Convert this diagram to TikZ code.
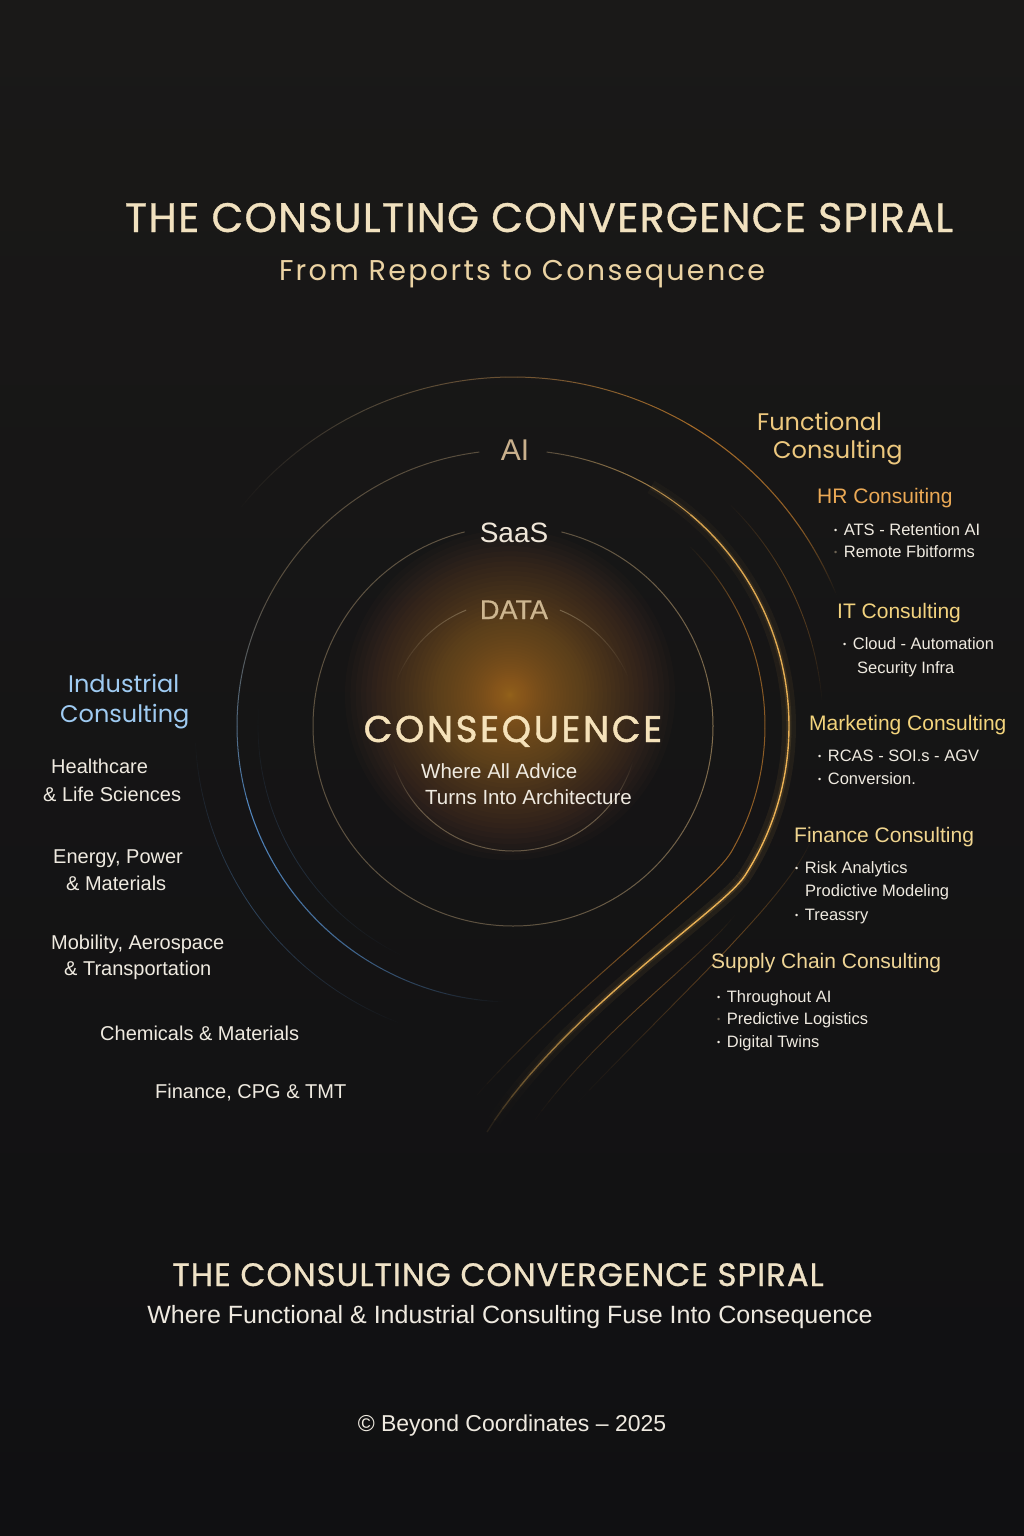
\documentclass[tikz,border=0pt]{standalone}
\usepackage{fontspec}
\setmainfont{Liberation Sans}
\newfontfamily\pop{Poppins}
\newfontfamily\popt[LetterSpace=3,FakeBold=0.8]{Poppins}
\newfontfamily\popw[LetterSpace=8]{Poppins}
\newfontfamily\popc[LetterSpace=7,FakeBold=1.2]{Poppins}
\newfontfamily\labf[FakeBold=0.5]{Liberation Sans}
\usetikzlibrary{calc}

\definecolor{bgtop}{HTML}{1A1918}
\definecolor{bgmid}{HTML}{141414}
\definecolor{bgbot}{HTML}{101012}
\definecolor{titlec}{HTML}{F1E1BF}
\definecolor{subc}{HTML}{EBD3A3}
\definecolor{tanc}{HTML}{8E7B5E}
\definecolor{tand}{HTML}{A88D62}
\definecolor{goldc}{HTML}{F3B858}
\definecolor{orangec}{HTML}{D98A30}
\definecolor{bluec}{HTML}{5E9DE0}
\definecolor{glowc}{HTML}{D89244}
\definecolor{aic}{HTML}{C9B08C}
\definecolor{saasc}{HTML}{EFE6D8}
\definecolor{datac}{HTML}{CDB690}
\definecolor{consc}{HTML}{F5E2BA}
\definecolor{whitec}{HTML}{EFEAE0}
\definecolor{funcc}{HTML}{EDC87E}
\definecolor{hrc}{HTML}{EBA955}
\definecolor{itc}{HTML}{F2D27E}
\definecolor{mktc}{HTML}{F3D47C}
\definecolor{finc}{HTML}{F0D58F}
\definecolor{supc}{HTML}{EFD596}
\definecolor{indc}{HTML}{9FCBF2}
\definecolor{dimc}{HTML}{6E6454}
\definecolor{botc}{HTML}{EFE2C6}

% arc made of segments: center, radius, a1, a2, colour1, colour2, op1, op2, width
\newcommand\segarc[9]{%
 \foreach \k in {1,...,30}{%
  \pgfmathsetmacro\sgA{#3+(#4-#3)*(\k-1)/30}%
  \pgfmathsetmacro\sgB{#3+(#4-#3)*\k/30}%
  \pgfmathsetmacro\sgO{#7+(#8-#7)*(\k-0.5)/30}%
  \pgfmathtruncatemacro\sgM{100-100*(\k-0.5)/30}%
  \draw[line width=#9, draw=#5!\sgM!#6, draw opacity=\sgO] ([shift={(\sgA:#2)}]#1) arc[start angle=\sgA, end angle=\sgB, radius=#2];%
 }%
}
\newcommand\sgbrk{0.5}
% bezier made of segments: P0,P1,P2,P3, colour, op start, op mid, op end, width
\newcommand\segbez[9]{%
 \foreach \k in {1,...,30}{%
  \pgfmathsetmacro\sgA{(\k-1)/30}%
  \pgfmathsetmacro\sgB{\k/30}%
  \pgfmathsetmacro\sgT{(\k-0.5)/30}%
  \pgfmathsetmacro\sgO{\sgT<\sgbrk ? (#6+(#7-#6)*\sgT/\sgbrk) : (#7+(#8-#7)*(\sgT-\sgbrk)/(1-\sgbrk))}%
  \pgfmathsetmacro\bzA{(1-\sgA)^3}\pgfmathsetmacro\bzB{3*(1-\sgA)^2*\sgA}%
  \pgfmathsetmacro\bzC{3*(1-\sgA)*\sgA^2}\pgfmathsetmacro\bzD{\sgA^3}%
  \pgfmathsetmacro\bzE{(1-\sgB)^3}\pgfmathsetmacro\bzF{3*(1-\sgB)^2*\sgB}%
  \pgfmathsetmacro\bzG{3*(1-\sgB)*\sgB^2}\pgfmathsetmacro\bzH{\sgB^3}%
  \draw[line width=#9, draw=#5, draw opacity=\sgO] ($\bzA*(#1)+\bzB*(#2)+\bzC*(#3)+\bzD*(#4)$) -- ($\bzE*(#1)+\bzF*(#2)+\bzG*(#3)+\bzH*(#4)$);%
 }%
}

\tikzset{
  lbl/.style={inner sep=0pt, anchor=base west},
  ctr/.style={inner sep=0pt, anchor=base},
  hdr/.style={lbl, font=\fontsize{21}{21}\selectfont},
  itm/.style={lbl, text=whitec, font=\fontsize{16.5}{16.5}\selectfont},
  ind/.style={lbl, text=whitec, font=\fontsize{20}{20}\selectfont},
  grp/.style={lbl, font=\pop\fontsize{24}{24}\selectfont},
}
\newcommand\bl{\raisebox{1.5pt}{\fontsize{9}{9}\selectfont •}\hspace{6.5pt}}
\newcommand\dbl{\textcolor{dimc}{\bl}}

\begin{document}
\begin{tikzpicture}[x=1pt,y=1pt]
\useasboundingbox (0,0) rectangle (1024,-1536);
\shade[top color=bgtop, middle color=bgmid, bottom color=bgbot] (0,0) rectangle (1024,-1536);

\coordinate (C) at (513,-726);
\coordinate (G) at (510,-695);

% central glow (stack of faint discs, peaked at the centre)
\foreach \i in {1,...,60}{\fill[glowc, opacity=0.022] (G) circle ({165*(\i/60)^2});}

% ---- outer ring
\segarc{C}{349}{142}{115}{tanc}{tanc}{0}{0.45}{1}
\segarc{C}{349}{115}{60}{tanc}{orangec}{0.45}{0.7}{1}
\segarc{C}{349}{60}{35}{orangec}{orangec}{0.75}{0.6}{1.1}
\segarc{C}{349}{35}{22}{orangec}{orangec}{0.6}{0}{1.1}

% ---- faint outer strand right
\segarc{C}{310}{46}{26}{orangec}{orangec}{0}{0.4}{0.9}
\segarc{C}{310}{26}{4}{orangec}{orangec}{0.4}{0}{0.9}

% ---- AI ring, left half
\segarc{C}{276}{97}{150}{tanc}{tanc}{0.55}{0.55}{1}
\segarc{C}{276}{150}{195}{tanc}{bluec}{0.55}{0.75}{1}
\segarc{C}{276}{195}{235}{bluec}{bluec}{0.85}{0.6}{1.1}
\segarc{C}{276}{235}{268}{bluec}{bluec}{0.6}{0}{1}
% blue faint strands
\segarc{C}{318}{182}{215}{bluec}{bluec}{0}{0.35}{0.8}
\segarc{C}{318}{215}{250}{bluec}{bluec}{0.35}{0}{0.8}
\segarc{C}{255}{175}{210}{bluec}{bluec}{0}{0.2}{0.8}
\segarc{C}{255}{210}{245}{bluec}{bluec}{0.2}{0}{0.8}

% ---- AI ring, right half (glow + line)
\segarc{C}{276}{60}{-33}{goldc}{goldc}{0.03}{0.08}{14}
\segarc{C}{276}{60}{-33}{goldc}{goldc}{0.06}{0.14}{5}
\segarc{C}{276}{83}{50}{tanc}{goldc}{0.55}{0.8}{1}
\segarc{C}{276}{50}{-33}{goldc}{goldc}{0.85}{1}{1.4}

% bright S-curve
\coordinate (s1a) at ([shift={(-33:276)}]C);
\coordinate (s1b) at ($(s1a)+(-21.8,-33.5)$);
\coordinate (s1c) at (560,-1015);
\coordinate (s1d) at (487,-1132);
\renewcommand\sgbrk{0.6}
\segbez{s1a}{s1b}{s1c}{s1d}{goldc}{0.08}{0.06}{0}{14}
\segbez{s1a}{s1b}{s1c}{s1d}{goldc}{0.14}{0.1}{0}{5}
\segbez{s1a}{s1b}{s1c}{s1d}{goldc}{1}{0.9}{0.05}{1.4}

% ---- strand 2
\segarc{C}{252}{46}{25}{orangec}{orangec}{0}{0.55}{1}
\segarc{C}{252}{25}{-30}{orangec}{orangec}{0.55}{0.65}{1}
\coordinate (s2a) at ([shift={(-30:252)}]C);
\coordinate (s2b) at ($(s2a)+(-20,-34.6)$);
\coordinate (s2c) at (575,-985);
\coordinate (s2d) at (477,-1095);
\renewcommand\sgbrk{0.5}
\segbez{s2a}{s2b}{s2c}{s2d}{orangec}{0.65}{0.55}{0}{1}

% ---- strands 4 and 5
\coordinate (s4a) at (812,-838);
\coordinate (s4b) at (790,-895);
\coordinate (s4c) at (690,-985);
\coordinate (s4d) at (578,-1102);
\segbez{s4a}{s4b}{s4c}{s4d}{orangec}{0}{0.4}{0}{0.9}
\coordinate (s5a) at (735,-915);
\coordinate (s5b) at (700,-960);
\coordinate (s5c) at (600,-1030);
\coordinate (s5d) at (535,-1120);
\segbez{s5a}{s5b}{s5c}{s5d}{orangec}{0}{0.45}{0}{0.9}

% ---- SaaS ring
\segarc{C}{200}{104}{270}{tanc}{tanc}{0.6}{0.6}{1}
\segarc{C}{200}{270}{360}{tanc}{tand}{0.6}{0.75}{1}
\segarc{C}{200}{360}{436}{tand}{tanc}{0.75}{0.6}{1}

% ---- DATA ring
\segarc{C}{125}{112}{160}{tanc}{tanc}{0.7}{0}{1}
\segarc{C}{125}{196}{222}{tanc}{tanc}{0}{0.65}{1}
\segarc{C}{125}{222}{318}{tanc}{tanc}{0.65}{0.65}{1}
\segarc{C}{125}{318}{344}{tanc}{tanc}{0.65}{0}{1}
\segarc{C}{125}{22}{68}{tanc}{tanc}{0}{0.7}{1}

% ---- titles
\node[ctr, text=titlec, font={\popt\fontsize{41.2}{41.2}\selectfont}] (title) at (539,-232) {THE CONSULTING CONVERGENCE SPIRAL};
\node[ctr, text=subc, font={\popw\fontsize{28.6}{28.6}\selectfont}] (sub) at (522,-280) {From Reports to Consequence};

% ---- ring labels
\node[ctr, text=aic, font=\fontsize{30}{30}\selectfont] (ai) at (515,-460) {AI};
\node[ctr, text=saasc, font=\fontsize{28}{28}\selectfont] (saas) at (514,-542) {SaaS};
\node[ctr, text=datac, font={\labf\fontsize{27}{27}\selectfont}] (data) at (514,-619) {DATA};
\node[ctr, text=consc, font={\popc\fontsize{37.2}{37.2}\selectfont}] (cons) at (513,-742) {CONSEQUENCE};
\node[lbl, text=whitec, font=\fontsize{20.5}{20.5}\selectfont] (adv1) at (421,-778) {Where All Advice};
\node[lbl, text=whitec, font=\fontsize{20.5}{20.5}\selectfont] (adv2) at (425,-804) {Turns Into Architecture};

% ---- functional side
\node[grp, text=funcc] (fun1) at (757,-430) {Functional};
\node[grp, text=funcc] (fun2) at (773,-458) {Consulting};

\node[hdr, text=hrc] (hr) at (817,-503) {HR Consuiting};
\node[itm] (hr1) at (834,-535) {\bl ATS - Retention AI};
\node[itm] (hr2) at (834,-557) {\dbl Remote Fbitforms};

\node[hdr, text=itc] (it) at (837,-618) {IT Consulting};
\node[itm] (it1) at (843,-649) {\bl Cloud - Automation};
\node[itm] (it2) at (857,-673) {Security Infra};

\node[hdr, text=mktc] (mk) at (809,-730) {Marketing Consulting};
\node[itm] (mk1) at (818,-761) {\bl RCAS - SOI.s - AGV};
\node[itm] (mk2) at (818,-784) {\bl Conversion.};

\node[hdr, text=finc] (fi) at (794,-842) {Finance Consulting};
\node[itm] (fi1) at (795,-873) {\bl Risk Analytics};
\node[itm] (fi2) at (805,-896) {Prodictive Modeling};
\node[itm] (fi3) at (795,-920) {\bl Treassry};

\node[hdr, text=supc] (sc) at (711,-968) {Supply Chain Consulting};
\node[itm] (sc1) at (717,-1002) {\bl Throughout AI};
\node[itm] (sc2) at (717,-1024) {\dbl Predictive Logistics};
\node[itm] (sc3) at (717,-1047) {\bl Digital Twins};

% ---- industrial side
\node[grp, text=indc] (ind1) at (68,-692) {Industrial};
\node[grp, text=indc] (ind2) at (60,-722) {Consulting};
\node[ind] (h1) at (51,-773) {Healthcare};
\node[ind] (h2) at (43,-801) {\& Life Sciences};
\node[ind] (e1) at (53,-863) {Energy, Power};
\node[ind] (e2) at (66,-890) {\& Materials};
\node[ind] (m1) at (51,-949) {Mobility, Aerospace};
\node[ind] (m2) at (64,-975) {\& Transportation};
\node[ind] (c1) at (100,-1040) {Chemicals \& Materials};
\node[ind] (f1) at (155,-1098) {Finance, CPG \& TMT};

% ---- bottom
\node[ctr, text=botc, font={\popt\fontsize{32.4}{32.4}\selectfont}] (btitle) at (498,-1286) {THE CONSULTING CONVERGENCE SPIRAL};
\node[ctr, text=whitec, font=\fontsize{25}{25}\selectfont] (bsub) at (510,-1323) {Where Functional \& Industrial Consulting Fuse Into Consequence};
\node[ctr, text=whitec, font=\fontsize{23}{23}\selectfont] (copy) at (512,-1431) {© Beyond Coordinates – 2025};
\end{tikzpicture}
\end{document}
